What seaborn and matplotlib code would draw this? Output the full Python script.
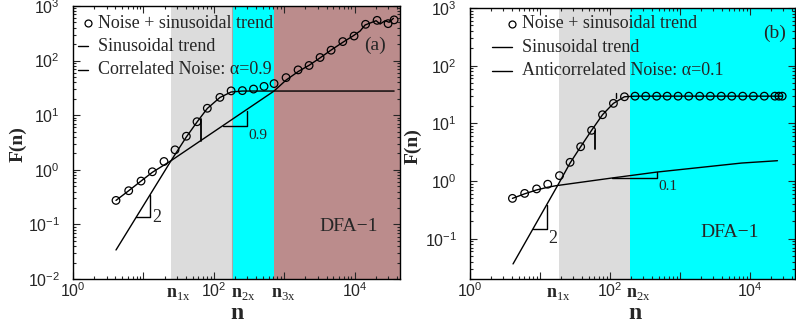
import numpy as np
import pandas as pd
import matplotlib
matplotlib.use("Agg")
import matplotlib.pyplot as plt
import seaborn as sns
from matplotlib.ticker import LogLocator, FuncFormatter, NullFormatter

# ---------------- panel (a): correlated noise (alpha = 0.9) + sinusoidal trend
a_n_total = [4.08, 6.18, 9.25, 13.4, 19.6, 28.1, 40.7, 57.7, 80.8, 122, 176, 254,
             366, 516, 716, 1061, 1571, 2251, 3225, 4624, 6776, 9800, 14280,
             20800, 29800, 36300]
a_F_total = [0.275, 0.414, 0.622, 0.92, 1.42, 2.32, 4.12, 7.6, 13.4, 21.2, 27.9,
             28.2, 30.1, 33.7, 37.9, 48.8, 67.6, 81.4, 114, 155, 223, 282, 462,
             546, 475, 557]
a_n_trend = [4.08, 24.7, 40.7, 57.7, 80.8, 122, 176, 253, 36300]
a_F_trend = [0.034, 1.47, 3.99, 7.5, 13.3, 21.1, 26.6, 27.7, 27.7]
a_n_noise = [4.08, 6.18, 9.25, 13.4, 24.7, 716, 1061, 1607, 2251, 3155, 4624,
             6776, 9590, 11940, 14060, 20140, 22960, 27040, 30830, 35480]
a_F_noise = [0.275, 0.414, 0.622, 0.90, 1.47, 27.7, 44, 64, 82, 110, 156, 216,
             286, 348, 449, 538, 468, 538, 503, 595]
a_regions = [24.7, 181, 716]              # shaded scale ranges
a_label_pos = [24.5, 208, 756]            # crossover tick labels
a_region_labels = ["1x", "2x", "3x"]

# ---------------- panel (b): anticorrelated noise (alpha = 0.1) + sinusoidal trend
b_n_total = [4.04, 6.04, 8.95, 12.9, 19.0, 26.9, 38.1, 54.6, 78.2, 112, 161, 228,
             324, 464, 656, 940, 1334, 1911, 2713, 3888, 5495, 7876, 11180, 16020,
             22730, 25900, 28850]
b_F_total = [0.50, 0.61, 0.73, 0.88, 1.24, 2.11, 3.93, 7.56, 14.1, 22.2, 28.9,
             29.6, 29.6, 29.6, 29.6, 29.6, 29.6, 29.6, 29.6, 29.6, 29.6, 29.6,
             29.6, 29.6, 29.6, 29.6, 29.6]
b_n_trend = [4.12, 18, 26.9, 38.1, 54.6, 78.2, 112, 161, 228, 28850]
b_F_trend = [0.0365, 0.85, 2.05, 3.93, 7.56, 14.1, 22.2, 28.9, 29.6, 29.6]
b_n_noise = [4.04, 6.04, 8.95, 12.9, 17, 108, 470, 7620, 24700]
b_F_noise = [0.50, 0.60, 0.70, 0.78, 0.83, 1.13, 1.43, 2.05, 2.25]
b_regions = [18.4, 194]
b_label_pos = [14.3, 199]
b_region_labels = ["1x", "2x"]

legend_a = ["Noise + sinusoidal trend", "Sinusoidal trend", "Correlated Noise: \u03b1=0.9"]
legend_b = ["Noise + sinusoidal trend", "Sinusoidal trend", "Anticorrelated Noise: \u03b1=0.1"]

GRAY = "#dcdcdc"
CYAN = "#00ffff"
BROWN = "#bb8c8c"

sns.set_style("ticks")
plt.rcParams["font.family"] = ["Liberation Sans", "DejaVu Sans"]
plt.rcParams["mathtext.fontset"] = "custom"
plt.rcParams["mathtext.rm"] = "Liberation Serif"
plt.rcParams["mathtext.bf"] = "Liberation Serif:bold"
plt.rcParams["axes.linewidth"] = 1.0
SERIF = ["Liberation Serif", "DejaVu Serif"]

fig = plt.figure(figsize=(7.96, 3.26), dpi=100)
ax_a = fig.add_axes([73 / 796, 1 - 279 / 326, 327 / 796, 273 / 326])
ax_b = fig.add_axes([470 / 796, 1 - 279 / 326, 325 / 796, 271 / 326])


def xfmt(v, pos):
    e = int(round(np.log10(v)))
    return r"$\mathdefault{10^{%d}}$" % e if e % 2 == 0 else ""


def yfmt(v, pos):
    e = int(round(np.log10(v)))
    return r"$\mathdefault{10^{%d}}$" % e


def style_axes(ax, ylim):
    ax.set_xscale("log")
    ax.set_yscale("log")
    ax.set_xlim(1, 4.4e4)
    ax.set_ylim(*ylim)
    for axis in (ax.xaxis, ax.yaxis):
        axis.set_major_locator(LogLocator(base=10, numticks=20))
        axis.set_minor_locator(LogLocator(base=10, subs=np.arange(2, 10), numticks=20))
        axis.set_minor_formatter(NullFormatter())
    ax.xaxis.set_major_formatter(FuncFormatter(xfmt))
    ax.yaxis.set_major_formatter(FuncFormatter(yfmt))
    ax.tick_params(which="both", direction="in", top=True, right=True,
                   labelsize=11.5, width=0.8)
    ax.tick_params(which="major", length=5)
    ax.tick_params(which="minor", length=2.5)
    ax.tick_params(axis="x", which="major", pad=1.5)
    ax.tick_params(axis="y", which="major", pad=9.5)
    for s in ax.spines.values():
        s.set_visible(True)
        s.set_color("black")
        s.set_zorder(10)


def draw_series(ax, n_tot, F_tot, n_tr, F_tr, n_no, F_no):
    tr = pd.DataFrame({"n": n_tr, "F": F_tr})
    no = pd.DataFrame({"n": n_no, "F": F_no})
    tot = pd.DataFrame({"n": n_tot, "F": F_tot})
    sns.lineplot(data=tr, x="n", y="F", ax=ax, color="black", lw=1.0,
                 estimator=None, sort=False, zorder=3)
    sns.lineplot(data=no, x="n", y="F", ax=ax, color="black", lw=1.0,
                 estimator=None, sort=False, zorder=3)
    sns.scatterplot(data=tot, x="n", y="F", ax=ax, marker="o", s=30,
                    facecolor="none", edgecolor="black", linewidth=0.9, zorder=4)


def draw_legend(ax, labels, x_marker, x_line0, x_text, ys):
    kw = dict(transform=ax.transAxes, clip_on=False, zorder=6)
    ax.plot([x_marker], [ys[0]], marker="o", ms=5, mfc="none", mec="black",
            mew=0.9, ls="none", **kw)
    for y in ys[1:]:
        ax.plot([x_line0, x_marker], [y, y], color="black", lw=1.0, **kw)
    for y, t in zip(ys, labels):
        ax.text(x_text, y, t, transform=ax.transAxes, fontsize=13,
                family=SERIF, va="center", ha="left", zorder=6)


def region_labels(ax, xs, subs):
    for x, s in zip(xs, subs):
        ax.annotate(r"$\mathbf{n}_{\mathrm{%s}}$" % s, xy=(x, 0),
                    xycoords=("data", "axes fraction"), xytext=(-3.6, -4.5),
                    textcoords="offset points", ha="left", va="top",
                    fontsize=13, annotation_clip=False)


# ---------------- panel (a)
ax = ax_a
style_axes(ax, (0.01, 1000))
ax.axvspan(a_regions[0], a_regions[1], color=GRAY, lw=0, zorder=0)
ax.axvspan(a_regions[1], a_regions[2], color=CYAN, lw=0, zorder=0)
ax.axvspan(a_regions[2], 4.4e4, color=BROWN, lw=0, zorder=0)
ax.axvline(a_regions[1], color="#a8a8a8", lw=0.8, zorder=1)
draw_series(ax, a_n_total, a_F_total, a_n_trend, a_F_trend, a_n_noise, a_F_noise)
# slope guides
ax.plot([7.85, 12.5, 12.5], [0.135, 0.135, 0.35], color="black", lw=1.0, zorder=3)
ax.text(15.6, 0.131, "2", fontsize=13, family=SERIF, va="center", ha="center")
ax.plot([134, 293, 293], [6.26, 6.26, 11.9], color="black", lw=1.0, zorder=3)
ax.text(425, 4.16, "0.9", fontsize=11, family=SERIF, va="center", ha="center")
ax.plot([66.4, 66.4], [3.33, 8.5], color="black", lw=1.3, zorder=3)
ax.text(0.924, 0.857, "(a)", transform=ax.transAxes, fontsize=14, family=SERIF,
        ha="center", va="center")
ax.text(0.844, 0.194, "DFA\u22121", transform=ax.transAxes, fontsize=14,
        family=SERIF, ha="center", va="center")
draw_legend(ax, legend_a, 0.046, 0.014, 0.0755, [0.937, 0.853, 0.766])
region_labels(ax, a_label_pos, a_region_labels)

# ---------------- panel (b)
ax = ax_b
style_axes(ax, (0.02, 1000))
ax.axvspan(b_regions[0], b_regions[1], color=GRAY, lw=0, zorder=0)
ax.axvspan(b_regions[1], 4.4e4, color=CYAN, lw=0, zorder=0)
draw_series(ax, b_n_total, b_F_total, b_n_trend, b_F_trend, b_n_noise, b_F_noise)
ax.plot([7.93, 12.7, 12.7], [0.147, 0.147, 0.388], color="black", lw=1.0, zorder=3)
ax.text(15.1, 0.099, "2", fontsize=13, family=SERIF, va="center", ha="center")
ax.plot([108, 470, 470], [1.13, 1.13, 1.43], color="black", lw=1.0, zorder=3)
ax.text(678, 0.81, "0.1", fontsize=11, family=SERIF, va="center", ha="center")
ax.plot([61.6, 61.6], [3.54, 7.3], color="black", lw=1.3, zorder=3)
ax.plot([121, 121], [27, 33], color="black", lw=1.0, zorder=3)
ax.text(0.938, 0.908, "(b)", transform=ax.transAxes, fontsize=14, family=SERIF,
        ha="center", va="center")
ax.text(0.80, 0.17, "DFA\u22121", transform=ax.transAxes, fontsize=14,
        family=SERIF, ha="center", va="center")
draw_legend(ax, legend_b, 0.128, 0.067, 0.159, [0.941, 0.856, 0.768])
region_labels(ax, b_label_pos, b_region_labels)

# axis titles
for ax, ylx, yly, xlx, xly in [(ax_a, -0.168, 0.496, 0.50, -0.128),
                               (ax_b, -0.174, 0.49, 0.506, -0.127)]:
    ax.set_ylabel("F(n)", fontsize=14, fontweight="bold", family=SERIF)
    ax.yaxis.set_label_coords(ylx, yly)
    ax.yaxis.label.set_va("center")
    ax.set_xlabel("n", fontsize=17, fontweight="bold", family=SERIF)
    ax.xaxis.set_label_coords(xlx, xly)
    ax.xaxis.label.set_va("center")

fig.savefig("out.png", dpi=100)
